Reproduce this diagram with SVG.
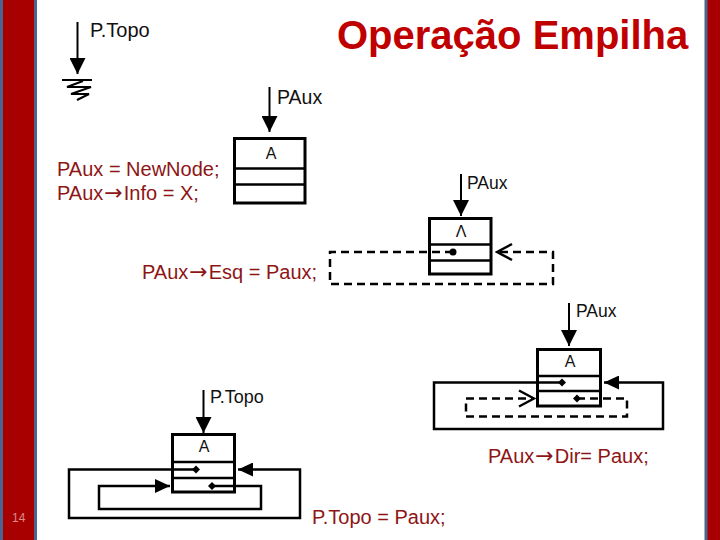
<svg xmlns="http://www.w3.org/2000/svg" width="720" height="540" viewBox="0 0 720 540">
<style>
.bar{fill:#A80000;stroke:#4A6590;stroke-width:3}
.box{fill:#fff;stroke:#000;stroke-width:3}
.div{stroke:#000;stroke-width:2.5}
.ptr{stroke:#000;stroke-width:2;fill:none}
.loop{stroke:#000;stroke-width:2.5;fill:none}
.dash{stroke:#000;stroke-width:2.5;fill:none;stroke-dasharray:8 5}
.lbl{font-family:"Liberation Sans",Arial,sans-serif;fill:#111}
.code{font-family:"Liberation Sans",Arial,sans-serif;font-size:20px;fill:#8E1515}
.arr{font-family:"DejaVu Sans",sans-serif;font-size:22px}
.title{font-family:"Liberation Sans",Arial,sans-serif;font-size:40px;font-weight:bold;fill:#C00000}
</style>
<defs>
<marker id="head" viewBox="0 0 16 16" refX="16" refY="8" markerWidth="16" markerHeight="16" markerUnits="userSpaceOnUse" orient="auto">
<path d="M0,0 L16,8 L0,16 z" fill="#000"/>
</marker>
<marker id="shead" viewBox="0 0 15 14" refX="15" refY="7" markerWidth="15" markerHeight="14" markerUnits="userSpaceOnUse" orient="auto">
<path d="M0,0 L15,7 L0,14 z" fill="#000"/>
</marker>
<marker id="open" viewBox="0 0 18 20" refX="16" refY="10" markerWidth="18" markerHeight="20" markerUnits="userSpaceOnUse" orient="auto">
<path d="M1,2 L16,10 L1,18" fill="none" stroke="#000" stroke-width="2.5" stroke-dasharray="none"/>
</marker>
</defs>

<rect class="bar" x="1.5" y="-3" width="34" height="546"/>
<rect class="bar" x="706" y="-3" width="20" height="546"/>
<text x="12" y="522" style="font-family:'Liberation Sans',Arial,sans-serif;font-size:12px;fill:#D88C8C">14</text>

<text class="title" x="337" y="49">Operação Empilha</text>

<g id="ptopo-null">
<line class="ptr" x1="77.5" y1="22" x2="77.5" y2="74" marker-end="url(#head)"/>
<line class="ptr" x1="62" y1="80" x2="92" y2="80"/>
<polyline class="ptr" points="83,81 67,87 91,87 71,94 89,94 77,100"/>
<text class="lbl" x="90" y="37" font-size="20">P.Topo</text>
</g>

<text class="code" x="57" y="176">PAux = NewNode;</text>
<text class="code" x="57" y="200">PAux<tspan class="arr" dx="1">→</tspan><tspan dx="1">Info = X;</tspan></text>
<text class="code" x="142" y="279">PAux<tspan class="arr" dx="1">→</tspan><tspan dx="1">Esq = Paux;</tspan></text>
<text class="code" x="488" y="463">PAux<tspan class="arr" dx="1">→</tspan><tspan dx="1">Dir= Paux;</tspan></text>
<text class="code" x="312" y="524">P.Topo = Paux;</text>

<g id="node1">
<rect class="box" x="234.5" y="138.5" width="70.5" height="64.5"/>
<line class="div" x1="234.5" y1="168.5" x2="305" y2="168.5"/>
<line class="div" x1="234.5" y1="184.5" x2="305" y2="184.5"/>
<text class="lbl" x="271" y="159" font-size="16" text-anchor="middle">A</text>
</g>

<g id="node2">
<rect class="box" x="429.5" y="218.5" width="61.5" height="55.5"/>
<line class="div" x1="429.5" y1="244.5" x2="491" y2="244.5"/>
<line class="div" x1="429.5" y1="260.5" x2="491" y2="260.5"/>
<text class="lbl" x="461" y="237" font-size="16" text-anchor="middle">Λ</text>
</g>

<g id="node3">
<rect class="box" x="537.5" y="349.5" width="63" height="56.5"/>
<line class="div" x1="537.5" y1="376" x2="600.5" y2="376"/>
<line class="div" x1="537.5" y1="391" x2="600.5" y2="391"/>
<text class="lbl" x="570" y="367" font-size="16" text-anchor="middle">A</text>
</g>

<g id="node4">
<rect class="box" x="172.5" y="434.5" width="62" height="57.5"/>
<line class="div" x1="172.5" y1="462" x2="234.5" y2="462"/>
<line class="div" x1="172.5" y1="478" x2="234.5" y2="478"/>
<text class="lbl" x="204" y="452" font-size="16" text-anchor="middle">A</text>
</g>

<g id="connectors">
<line class="ptr" x1="269.5" y1="87" x2="269.5" y2="132" marker-end="url(#head)"/>
<text class="lbl" x="277" y="104" font-size="19.5">PAux</text>

<line class="ptr" x1="461" y1="174" x2="461" y2="216" marker-end="url(#head)"/>
<text class="lbl" x="467" y="189" font-size="17.5">PAux</text>
<path class="dash" d="M453,252 H330 V284 H553 V252 H497" marker-end="url(#open)"/>
<circle cx="453" cy="252" r="3.5" fill="#000"/>

<line class="ptr" x1="569" y1="303" x2="569" y2="346" marker-end="url(#head)"/>
<text class="lbl" x="576" y="317" font-size="17.5">PAux</text>
<path class="loop" d="M562,382.5 H434 V429 H663 V382.5 H604" marker-end="url(#shead)"/>
<path class="dash" d="M577,398.5 H627 V416.5 H466 V398.5 H534" marker-end="url(#open)"/>
<path d="M562,378.5 L566,382.5 L562,386.5 L558,382.5 z" fill="#000"/>
<path d="M577,394.5 L581,398.5 L577,402.5 L573,398.5 z" fill="#000"/>

<line class="ptr" x1="203.5" y1="390" x2="203.5" y2="433" marker-end="url(#head)"/>
<text class="lbl" x="210" y="403" font-size="18">P.Topo</text>
<path class="loop" d="M196,469.5 H69 V518 H300 V469.5 H238" marker-end="url(#shead)"/>
<path class="loop" d="M212,486 H261 V509 H99 V486 H170" marker-end="url(#shead)"/>
<path d="M196,465.5 L200,469.5 L196,473.5 L192,469.5 z" fill="#000"/>
<path d="M212,482 L216,486 L212,490 L208,486 z" fill="#000"/>
</g>
</svg>
